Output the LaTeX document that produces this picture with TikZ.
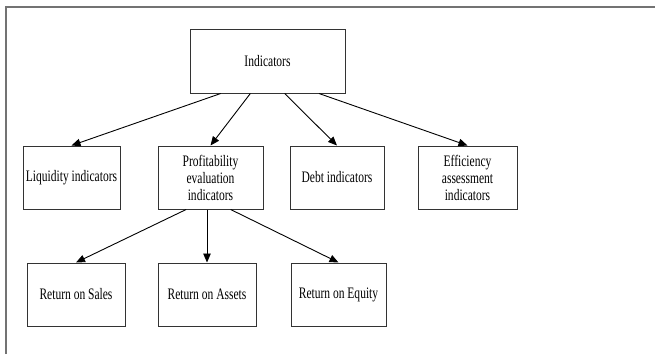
\documentclass[tikz,border=0pt]{standalone}
\usepackage{fontspec}
\setmainfont{Liberation Serif}[FakeStretch=0.72]
\usepackage{tikz}
\usetikzlibrary{arrows.meta,positioning,calc}

\begin{document}
\begin{tikzpicture}[x=1pt,y=1pt,>={Triangle[length=9pt,width=7.5pt]},
	box/.style={draw=black!80, line width=1pt, minimum height=63pt, inner sep=2pt,
		align=center, font=\fontsize{16}{17}\selectfont},
	frame/.style={draw=black!55, line width=1.2pt}]
	\useasboundingbox (0,0) rectangle (655,-354);
	\draw[frame] (6,-354) -- (6,-7) -- (655,-7);

	\node[box, minimum width=155pt, minimum height=64pt] (ind) at (267.5,-61) {Indicators};
	\node[box, minimum width=97pt]  (liq)  at (71.5,-177.5)    {Liquidity indicators};
	\node[box, minimum width=105pt] (prof) [right=37pt of liq]  {Profitability\\evaluation\\indicators};
	\node[box, minimum width=94pt]  (debt) [right=26pt of prof] {Debt indicators};
	\node[box, minimum width=99pt]  (eff)  [right=33pt of debt] {Efficiency\\assessment\\indicators};
	\node[box, minimum width=98pt]  (ros)  at (76,-294.5)      {Return on Sales};
	\node[box, minimum width=98pt]  (roa)  [right=32pt of ros]  {Return on Assets};
	\node[box, minimum width=95pt]  (roe)  [right=34pt of roa]  {Return on Equity};

	\path[->, line width=0.9pt]
		($(ind.south west)!0.2!(ind.south east)$)  edge (liq.north)
		($(ind.south west)!0.39!(ind.south east)$) edge (prof.north)
		($(ind.south west)!0.61!(ind.south east)$) edge (debt.north)
		($(ind.south west)!0.83!(ind.south east)$) edge (eff.north)
		($(prof.south west)!0.27!(prof.south east)$) edge (ros.north)
		(prof.south -| roa.north) edge (roa.north)
		($(prof.south west)!0.69!(prof.south east)$) edge (roe.north);
\end{tikzpicture}
\end{document}
